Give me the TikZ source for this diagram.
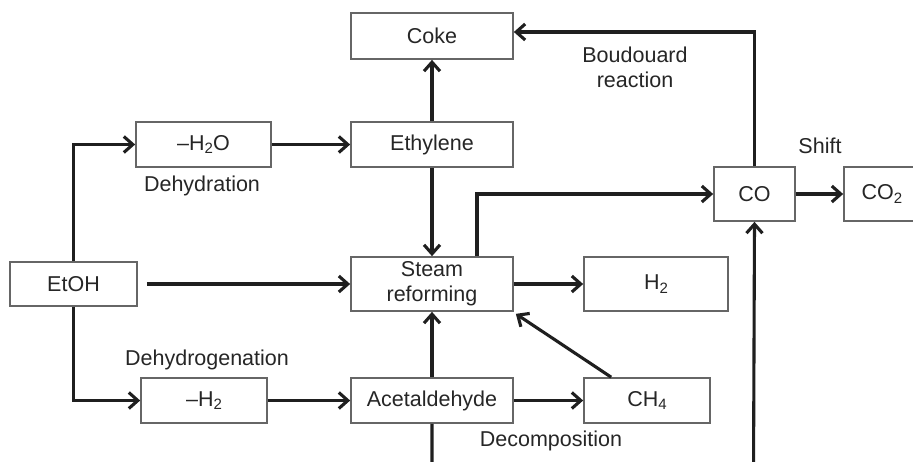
\documentclass[tikz,border=0pt]{standalone}
\usepackage{fontspec}
\setmainfont{Liberation Sans}
\usetikzlibrary{arrows.meta}
\newcommand{\sbx}[1]{\raisebox{-0.3ex}{\fontsize{15}{15}\selectfont #1}}
\begin{document}
\begin{tikzpicture}[x=1pt,y=-1pt,
  every node/.style={font=\fontsize{21.5}{25}\selectfont, text=black!85},
  box/.style={draw=black!60, line width=1.7pt, inner sep=0pt, align=center},
  conn/.style={draw=black!88, line width=3.1pt, -{Straight Barb[length=9pt,width=16pt,line width=3.1pt]}},
  lbl/.style={inner sep=0pt, align=center}]
\clip (0,0) rectangle (913,461);
\fill[white] (0,0) rectangle (913,461);
% boxes
\node[box, minimum width=162pt, minimum height=46pt] (coke) at (432,36) {Coke};
\node[box, minimum width=135pt, minimum height=45pt] (h2o) at (203.5,144.5) {--H\sbx{2}O};
\node[box, minimum width=162pt, minimum height=45pt] (eth) at (432,144.5) {Ethylene};
\node[box, minimum width=127pt, minimum height=44pt] (etoh) at (73.5,284) {EtOH};
\node[box, minimum width=162pt, minimum height=54pt] (steam) at (432,284) {Steam\\reforming};
\node[box, minimum width=144pt, minimum height=54pt] (hh) at (656,284) {H\sbx{2}};
\node[box, minimum width=126pt, minimum height=45pt] (mh2) at (204,400.5) {--H\sbx{2}};
\node[box, minimum width=162pt, minimum height=45pt] (acet) at (432,400.5) {Acetaldehyde};
\node[box, minimum width=126pt, minimum height=45pt] (ch4) at (647,400.5) {CH\sbx{4}};
\node[box, minimum width=81pt, minimum height=54pt] (co) at (754.5,194) {CO};
\node[box, minimum width=76pt, minimum height=54pt] (co2) at (882,194) {CO\sbx{2}};
% labels
\node[lbl] (ldehyd) at (202,186) {Dehydration};
\node[lbl] (ldehydro) at (207,360) {Dehydrogenation};
\node[lbl] (ldecomp) at (551,441) {Decomposition};
\node[lbl] (lshift) at (820,146) {Shift};
\node[lbl] (lboud) at (635,67) {Boudouard\\reaction};
% bottom coordinates (outside the visible area)
\coordinate (bl) at (432,475);
\coordinate (br) at (753.5,475);
% connectors
\draw[conn] (eth.north) -- (coke.south);
\draw[conn] (h2o.east) -- (eth.west);
\draw[conn] (etoh.north) |- (h2o.west);
\draw[conn] (etoh.south) |- (mh2.west);
\draw[conn] ([xshift=9pt]etoh.east) -- (steam.west);
\draw[conn] (eth.south) -- (steam.north);
\draw[conn] (acet.north) -- (steam.south);
\draw[conn] (mh2.east) -- (acet.west);
\draw[conn] (acet.east) -- (ch4.west);
\draw[conn] (steam.east) -- (hh.west);
\draw[conn] ([xshift=28pt]ch4.north west) -- ([xshift=2pt,yshift=-2pt]steam.south east);
\draw[conn] ([xshift=45pt]steam.north) |- (co.west);
\draw[conn] (co.north) |- ([yshift=4pt]coke.east);
\draw[conn] (co.east) -- (co2.west);
\draw[conn] (acet.south) -- (bl) -- (br) -- (co.south);
\end{tikzpicture}
\end{document}
